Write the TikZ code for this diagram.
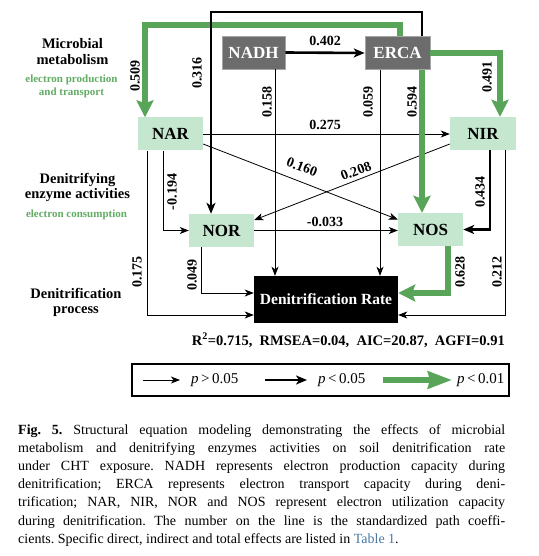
\documentclass[tikz,border=0pt]{standalone}
\usepackage{fontspec}
\setmainfont{Liberation Serif}
\usetikzlibrary{arrows.meta}
\definecolor{boxgreen}{RGB}{197,231,207}
\definecolor{arrgreen}{RGB}{88,165,90}
\definecolor{boxgray}{RGB}{108,108,108}
\definecolor{txtgreen}{RGB}{98,172,100}
\definecolor{linkblue}{RGB}{72,122,165}
\begin{document}
\begin{tikzpicture}[x=1pt,y=-1pt,
  enz/.style={fill=boxgreen, inner sep=0pt, minimum width=65pt, minimum height=33pt, font=\fontsize{17}{17}\selectfont\bfseries},
  met/.style={fill=boxgray, draw=gray!70, line width=0.6pt, inner sep=0pt, minimum height=33pt, text=white, font=\fontsize{17}{17}\selectfont\bfseries},
  thinar/.style={line width=0.8pt, -{Stealth[length=9pt,width=7pt,inset=2.5pt]}},
  boldar/.style={line width=2.6pt, -{Stealth[length=11pt,width=9pt,inset=3pt]}},
  greenar/.style={line width=6pt, draw=arrgreen, -{Stealth[length=17pt,width=17pt,inset=3pt]}},
  coef/.style={font=\fontsize{14}{14}\selectfont\bfseries, inner sep=0pt},
  vcoef/.style={coef, rotate=90},
  sidehead/.style={font=\fontsize{14.5}{14.5}\selectfont\bfseries, inner sep=0pt, anchor=base},
  sidesub/.style={font=\fontsize{11}{11}\selectfont\bfseries, text=txtgreen, inner sep=0pt, anchor=base},
  legtext/.style={font=\fontsize{15}{15}\selectfont, anchor=west, inner ysep=0pt}
]
\useasboundingbox (0,0) rectangle (538,556);

% column and row helpers
\coordinate (xa) at (145,0);
\coordinate (xb) at (147,0);
\coordinate (xc) at (163,0);
\coordinate (xd) at (201,0);
\coordinate (xe) at (211,0);
\coordinate (xf) at (275,0);
\coordinate (xg) at (380,0);
\coordinate (xh) at (400,0);
\coordinate (xi) at (422,0);
\coordinate (xj) at (448,0);
\coordinate (xk) at (490,0);
\coordinate (xl) at (500,0);
\coordinate (xm) at (505,0);
\coordinate (ya) at (0,12);
\coordinate (yb) at (0,25);
\coordinate (yc) at (0,293);
\coordinate (yd) at (0,315);

% nodes
\node[met, minimum width=63pt] (NADH) at (253.5,52.5) {NADH};
\node[met, minimum width=65pt] (ERCA) at (397.5,53) {ERCA};
\node[enz] (NAR) at (170.5,134) {NAR};
\node[enz, minimum width=66pt] (NIR) at (483,133.5) {NIR};
\node[enz] (NOR) at (221.5,230.5) {NOR};
\node[enz] (NOS) at (430.5,229.5) {NOS};
\node[fill=black, text=white, inner sep=0pt, minimum width=144pt, minimum height=47pt,
      font=\fontsize{15.5}{15.5}\selectfont\bfseries] (DR) at (326,299.5) {Denitrification Rate};

% side labels
\node[sidehead] (s1a) at (72.5,48.5) {Microbial};
\node[sidehead] (s1b) at (72.5,64.5) {metabolism};
\node[sidesub] (s1c) at (71.5,83) {electron production};
\node[sidesub] (s1d) at (71.5,96) {and transport};
\node[sidehead] (s2a) at (77.5,183) {Denitrifying};
\node[sidehead] (s2b) at (77.5,198.5) {enzyme activities};
\node[sidesub] (s2c) at (76.5,217) {electron consumption};
\node[sidehead] (s3a) at (76,298) {Denitrification};
\node[sidehead] (s3b) at (76,313.5) {process};

% thin connectors
\draw[thinar] (NAR.east) -- (NAR.east -| NIR.west);
\draw[thinar] ([yshift=-10pt]NAR.east) -- ([yshift=10pt]NOS.west);
\draw[thinar] ([yshift=-10.5pt]NIR.west) -- ([yshift=10.5pt]NOR.east);
\draw[thinar] (NADH.south -| xf) -- (DR.north -| xf);
\draw[thinar] (ERCA.south -| xg) -- (DR.north -| xg);
\draw[thinar] (NAR.south -| xc) |- (NOR.west);
\draw[thinar] (NAR.south -| xb) |- (DR.west |- yd);
\draw[thinar] (NOR.east) -- (NOR.east -| NOS.west);
\draw[thinar] (NOR.south -| xd) |- (DR.west |- yc);
\draw[thinar] (NIR.south -| xm) |- (DR.east |- yd);

% green connectors
\draw[greenar] (ERCA.north -| xh) |- (yb -| xa) -- (NAR.north -| xa);
\draw[greenar] (ERCA.east) -| (NIR.north -| xl);
\draw[greenar] (ERCA.south -| xi) -- (NOS.north -| xi);
\draw[greenar] (NOS.south -| xj) |- (DR.east |- yc);

% bold connectors
\draw[boldar] (NADH.east) -- (ERCA.west);
\draw[boldar] (ERCA.north -| xi) |- (ya -| xe) -- (NOR.north -| xe);
\draw[boldar] (NIR.south -| xk) |- (NOS.east);

% coefficients
\node[vcoef] (c509) at (135,76) {0.509};
\node[vcoef] (c316) at (197,73) {0.316};
\node[coef] (c402) at (325,41) {0.402};
\node[vcoef] (c158) at (267,102) {0.158};
\node[vcoef] (c059) at (368,102) {0.059};
\node[vcoef] (c594) at (412,102) {0.594};
\node[vcoef] (c491) at (487,77) {0.491};
\node[coef] (c275) at (325,125) {0.275};
\node[coef, rotate=-21] (c160) at (302,167) {0.160};
\node[coef, rotate=21] (c208) at (356,171) {0.208};
\node[vcoef] (c194) at (172,192) {-0.194};
\node[coef] (c033) at (325,222) {-0.033};
\node[vcoef] (c175) at (137,272) {0.175};
\node[vcoef] (c049) at (192,275) {0.049};
\node[vcoef] (c434) at (480,192) {0.434};
\node[vcoef] (c628) at (460,272) {0.628};
\node[vcoef] (c212) at (497,272) {0.212};

% fit statistics
\node[font=\fontsize{14.5}{14.5}\selectfont\bfseries, inner sep=0pt, anchor=base east] (stats) at (505,345)
  {R\textsuperscript{2}=0.715,\ \ RMSEA=0.04,\ \ AIC=20.87,\ \ AGFI=0.91};

% legend
\node[draw, line width=1.2pt, minimum width=377pt, minimum height=32pt, inner sep=0pt] (legbox) at (320.5,380) {};
\coordinate (l1) at (143,380);
\coordinate (l2) at (265,380);
\coordinate (l3) at (383,380);
\node[legtext, inner xsep=11pt] (t1) at (180,380) {\textit{p}\,>\,0.05};
\node[legtext, inner xsep=11pt] (t2) at (307,380) {\textit{p}\,<\,0.05};
\node[legtext, inner xsep=5pt] (t3) at (452,380) {\textit{p}\,<\,0.01};
\draw[thinar] (l1) -- (t1.west);
\draw[boldar] (l2) -- (t2.west);
\draw[line width=6.5pt, draw=arrgreen, -{Stealth[length=24pt,width=17pt,inset=2pt]}] (l3) -- (t3.west);

% caption
\node[anchor=north west, inner sep=0pt, text width=487pt, align=justify,
      font=\fontsize{14}{18.2}\selectfont] (cap) at (18,424)
{\frenchspacing\tolerance=9999\emergencystretch=20pt
\textbf{Fig.\ 5.} Structural equation modeling demonstrating the effects of microbial\linebreak
metabolism and denitrifying enzymes activities on soil denitrification rate\linebreak
under CHT exposure. NADH represents electron production capacity during\linebreak
denitrification; ERCA represents electron transport capacity during deni-\linebreak
trification; NAR, NIR, NOR and NOS represent electron utilization capacity\linebreak
during denitrification. The number on the line is the standardized path coeffi-\linebreak
cients. Specific direct, indirect and total effects are listed in \textcolor{linkblue}{Table 1}.};
\end{tikzpicture}
\end{document}
